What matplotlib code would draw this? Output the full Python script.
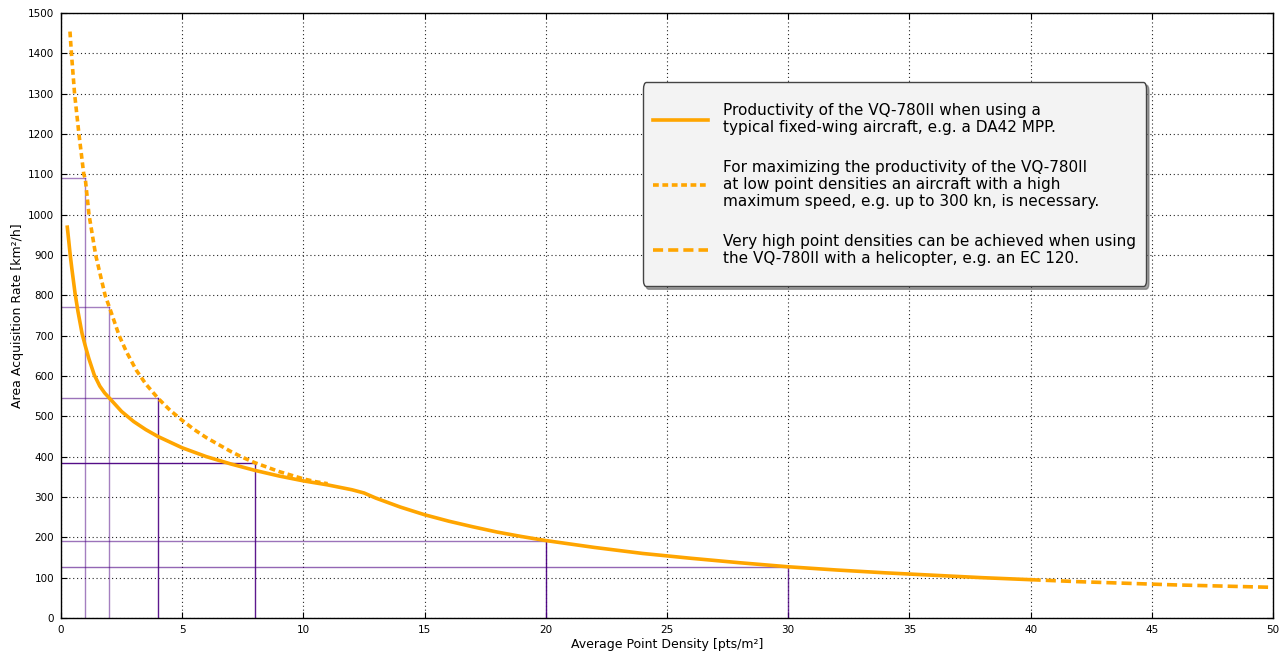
import numpy as np
import matplotlib
matplotlib.use('Agg')
import matplotlib.pyplot as plt

plt.rcParams['font.family'] = 'DejaVu Sans'
save_path = 'out.png'

# fixed-wing curve (solid)
fixed_x = [0.26, 0.32, 0.38, 0.45, 0.58, 0.7, 0.87, 1, 1.15, 1.37, 1.6, 1.8, 2, 2.5, 3, 3.5, 4, 5, 6, 7, 8, 9,
           10, 11, 12, 12.5, 13, 14, 15, 16, 17, 18, 19, 20, 22, 24, 26, 28, 30, 32, 34, 36, 38, 40]
fixed_y = [969, 935, 900, 865, 805, 760, 705, 675, 643, 603, 575, 558, 545, 512, 487, 467, 450, 422, 400, 382,
           366, 352, 340, 330, 318, 310, 297, 275, 256, 240, 226, 213, 202, 192, 175, 160, 148, 137, 127, 119,
           112, 106, 100, 95]

# fast aircraft (dotted)
fast_x = [0.37, 0.43, 0.56, 0.74, 0.94, 1, 1.155, 1.43, 1.82, 2, 2.4, 2.7, 3.1, 3.5, 4, 4.5, 5, 5.5, 6,
          6.5, 7, 7.5, 8, 8.5, 9, 9.5, 10, 10.5, 11]
fast_y = [1454, 1400, 1300, 1200, 1100, 1090, 1000, 900, 800, 770, 700, 660, 615, 580, 545, 515, 490, 467, 447,
          430, 413, 398, 385, 374, 363, 354, 345, 338, 333]

# helicopter (dashed)
heli_x = [40, 42, 44, 46, 48, 50]
heli_y = [95, 90, 86, 82, 79, 76]

# reference lines
ref_x = [1, 2, 4, 8, 20, 30]
ref_y = [1090, 770, 545, 385, 192, 127]

labels = ['Productivity of the VQ-780II when using a\ntypical fixed-wing aircraft, e.g. a DA42 MPP.',
          'For maximizing the productivity of the VQ-780II\nat low point densities an aircraft with a high\nmaximum speed, e.g. up to 300 kn, is necessary.',
          'Very high point densities can be achieved when using\nthe VQ-780II with a helicopter, e.g. an EC 120.']

orange = '#ffa500'
purple = '#4b0082'

fig = plt.figure(figsize=(12.85, 6.55), dpi=100)
ax = fig.add_axes([61/1285, 37/655, 1212/1285, 605/655])

# purple guide lines (alpha varies like in the original)
v_alpha = [0.5, 0.5, 0.9, 0.9, 0.95, 0.8]
h_alpha = [0.5, 0.5, 0.55, 0.95, 0.55, 0.6]
for xv, yv, va, ha in zip(ref_x, ref_y, v_alpha, h_alpha):
    ax.plot([xv, xv], [0, yv], color=purple, lw=1, alpha=va, zorder=2)
    ax.plot([0, xv], [yv, yv], color=purple, lw=1, alpha=ha, zorder=2)

ax.plot(fixed_x, fixed_y, color=orange, lw=2.6, label=labels[0], zorder=3)
ax.plot(fast_x, fast_y, color=orange, lw=2.6, dashes=(1.6, 1.0), label=labels[1], zorder=3)
ax.plot(heli_x, heli_y, color=orange, lw=2.6, dashes=(2.8, 1.4), label=labels[2], zorder=3)

ax.set_xlim(0, 50)
ax.set_ylim(0, 1500)
ax.set_xticks(np.arange(0, 51, 5))
ax.set_yticks(np.arange(0, 1501, 100))
ax.grid(True, color='k', linestyle=(0, (1, 2.5)), linewidth=0.8, alpha=0.85)
ax.set_axisbelow(True)
ax.tick_params(direction='in', top=True, right=True, length=4, labelsize=7.5, pad=5)
for s in ax.spines.values():
    s.set_linewidth(1)

ax.set_xlabel('Average Point Density [pts/m²]', fontsize=9, labelpad=2)
ax.set_ylabel('Area Acquisition Rate [km²/h]', fontsize=9, labelpad=3)

# legend: frame padding done through the box style so that it is taller than wide
leg = ax.legend(loc='upper left', bbox_to_anchor=(0.4884, 0.8512), borderaxespad=0,
                fontsize=11, labelspacing=1.65, handlelength=3.6, handletextpad=1.0,
                borderpad=0, fancybox=True, shadow=True, framealpha=1)
for t in leg.get_texts():
    t.set_linespacing(1.15)
frame = leg.get_frame()
frame.set_facecolor('#f3f3f3')
frame.set_edgecolor('#444444')
frame.set_boxstyle('round', pad=0.65, rounding_size=0.2)
frame.set_mutation_aspect(2.1)

plt.savefig(save_path, dpi=100)
